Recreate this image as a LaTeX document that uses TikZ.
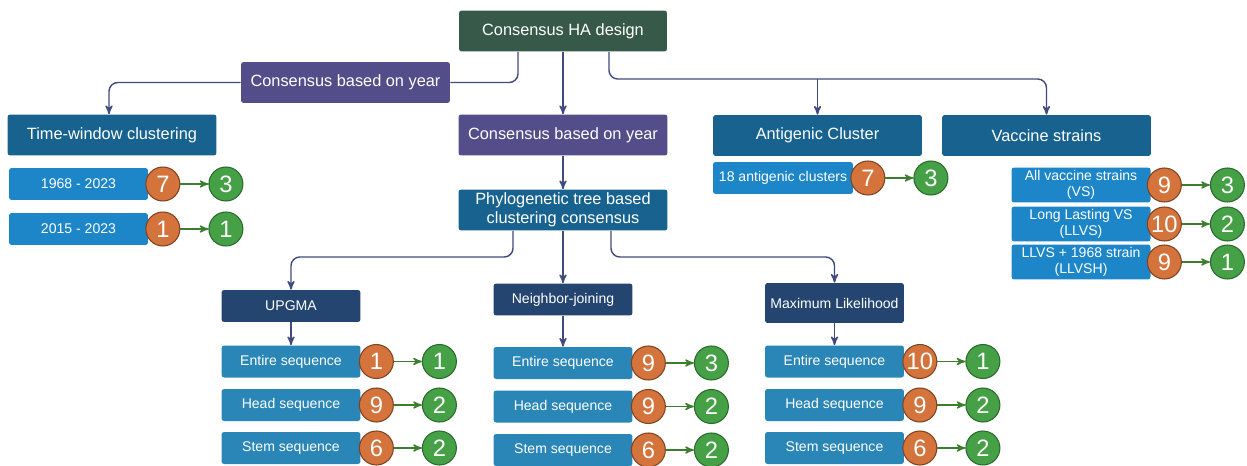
\documentclass[tikz,border=0pt]{standalone}
\usepackage{fontspec}
\setmainfont{Liberation Sans}
\usetikzlibrary{arrows,positioning}

\definecolor{hagreen}{HTML}{37594A}
\definecolor{yearpurple}{HTML}{534E8A}
\definecolor{headblue}{HTML}{17628F}
\definecolor{itemblue}{HTML}{1C86C8}
\definecolor{seqblue}{HTML}{2A86B7}
\definecolor{methodnavy}{HTML}{23456F}
\definecolor{orangefill}{HTML}{D4733B}
\definecolor{orangedark}{HTML}{7E4321}
\definecolor{greenfill}{HTML}{45A046}
\definecolor{greendark}{HTML}{2A6A2C}
\definecolor{arrowgreen}{HTML}{3E7D2F}
\definecolor{linkblue}{HTML}{404A7C}

\begin{document}
\begin{tikzpicture}[x=0.02cm,y=-0.02cm,>=stealth',
  base node/.style={text=white,align=center,inner sep=1pt,rounded corners=1.5pt,font=\fontsize{9.3}{11}\selectfont},
  top node/.style={base node,fill=hagreen,minimum width=4.16cm,minimum height=0.82cm},
  year node/.style={base node,fill=yearpurple,minimum width=4.18cm,minimum height=0.82cm},
  head node/.style={base node,fill=headblue,minimum width=4.18cm,minimum height=0.82cm},
  method node/.style={base node,fill=methodnavy,minimum width=2.78cm,minimum height=0.64cm,font=\fontsize{8}{9.5}\selectfont},
  item node/.style={base node,fill=itemblue,minimum width=2.78cm,minimum height=0.64cm,font=\fontsize{8}{9.5}\selectfont},
  seq node/.style={item node,fill=seqblue},
  before node/.style={circle,draw=orangedark,fill=orangefill,text=white,line width=0.6pt,minimum size=0.68cm,inner sep=0pt,font=\fontsize{13.5}{13.5}\selectfont},
  after node/.style={before node,draw=greendark,fill=greenfill},
  link/.style={draw=linkblue,line width=0.8pt,rounded corners=5pt},
  count arrow/.style={->,draw=arrowgreen,line width=0.8pt}]

  \useasboundingbox (0,0) rectangle (1247,466);

  \node[top node] (ha) at (563,31) {Consensus HA design};
  \node[year node] (year1) at (345.5,82.5) {Consensus based on year};
  \node[head node] (time) at (112,135) {Time-window clustering};
  \node[year node] (year2) at (563,135) {Consensus based on year};
  \node[head node] (phylo) at (563,210) {Phylogenetic tree based\\clustering consensus};
  \node[head node] (anti) at (817.5,135.5) {Antigenic Cluster};
  \node[head node] (vacc) at (1046.5,135.5) {Vaccine strains};

  \coordinate (fork) at (563,79);
  \coordinate (split) at (563,257);

  \node[item node] (r1) at (78.5,184) {1968 - 2023};
  \node[before node,right=-0.06cm of r1] (r1b) {7};
  \node[after node,right=0.56cm of r1b] (r1a) {3};
  \node[item node] (r2) at (78.5,229) {2015 - 2023};
  \node[before node,right=-0.06cm of r2] (r2b) {1};
  \node[after node,right=0.56cm of r2b] (r2a) {1};

  \node[item node,minimum width=2.8cm] (ag) at (783,178) {18 antigenic clusters};
  \node[before node,right=-0.06cm of ag] (agb) {7};
  \node[after node,right=0.56cm of agb] (aga) {3};

  \node[item node,minimum height=0.7cm] (v1) at (1081,185) {All vaccine strains\\(VS)};
  \node[before node,right=-0.08cm of v1] (v1b) {9};
  \node[after node,right=0.56cm of v1b] (v1a) {3};
  \node[item node,minimum height=0.7cm] (v2) at (1081,224) {Long Lasting VS\\(LLVS)};
  \node[before node,right=-0.08cm of v2] (v2b) {10};
  \node[after node,right=0.56cm of v2b] (v2a) {2};
  \node[item node,minimum height=0.7cm] (v3) at (1081,262) {LLVS + 1968 strain\\(LLVSH)};
  \node[before node,right=-0.08cm of v3] (v3b) {9};
  \node[after node,right=0.56cm of v3b] (v3a) {1};

  \node[method node] (upgma) at (291,306) {UPGMA};
  \node[method node] (nj) at (563,299.5) {Neighbor-joining};
  \node[method node,minimum height=0.8cm] (ml) at (834.5,303) {Maximum Likelihood};

  \node[seq node] (ue) at (291,361.5) {Entire sequence};
  \node[before node,right=-0.04cm of ue] (ueb) {1};
  \node[after node,right=0.56cm of ueb] (uea) {1};
  \node[seq node] (uh) at (291,405) {Head sequence};
  \node[before node,right=-0.04cm of uh] (uhb) {9};
  \node[after node,right=0.56cm of uhb] (uha) {2};
  \node[seq node] (us) at (291,448) {Stem sequence};
  \node[before node,right=-0.04cm of us] (usb) {6};
  \node[after node,right=0.56cm of usb] (usa) {2};

  \node[seq node] (ne) at (563,363) {Entire sequence};
  \node[before node,right=-0.04cm of ne] (neb) {9};
  \node[after node,right=0.56cm of neb] (nea) {3};
  \node[seq node] (nh) at (563,406.5) {Head sequence};
  \node[before node,right=-0.04cm of nh] (nhb) {9};
  \node[after node,right=0.56cm of nhb] (nha) {2};
  \node[seq node] (ns) at (563,450) {Stem sequence};
  \node[before node,right=-0.04cm of ns] (nsb) {6};
  \node[after node,right=0.56cm of nsb] (nsa) {2};

  \node[seq node] (me) at (834.5,361.5) {Entire sequence};
  \node[before node,right=-0.04cm of me] (meb) {10};
  \node[after node,right=0.56cm of meb] (mea) {1};
  \node[seq node] (mh) at (834.5,405) {Head sequence};
  \node[before node,right=-0.04cm of mh] (mhb) {9};
  \node[after node,right=0.56cm of mhb] (mha) {2};
  \node[seq node] (ms) at (834.5,448) {Stem sequence};
  \node[before node,right=-0.04cm of ms] (msb) {6};
  \node[after node,right=0.56cm of msb] (msa) {2};

  \draw[link] (year1.east) -| ([xshift=-0.9cm]ha.south);
  \draw[link,->] (year1.west) -| ([xshift=-0.06cm]time.north);
  \draw[link,->] (ha) -- (year2);
  \draw[link,->] ([xshift=0.92cm]ha.south) |- (fork -| vacc.north) -- (vacc.north);
  \draw[link,->] (fork -| anti.north) -- (anti.north);
  \draw[link,->] (year2) -- (phylo);
  \draw[link,->] ([xshift=-1cm]phylo.south) |- (split -| upgma.north) -- (upgma.north);
  \draw[link,->] (phylo) -- (nj);
  \draw[link,->] ([xshift=0.96cm]phylo.south) |- (split -| ml.north) -- (ml.north);
  \draw[link,->] (upgma) -- (ue);
  \draw[link,->] (nj) -- (ne);
  \draw[link,->] (ml) -- (me);

  \foreach \n in {r1,r2,ag,v1,v2,v3,ue,uh,us,ne,nh,ns,me,mh,ms}
    \draw[count arrow] (\n b) -- (\n a);

\end{tikzpicture}
\end{document}
